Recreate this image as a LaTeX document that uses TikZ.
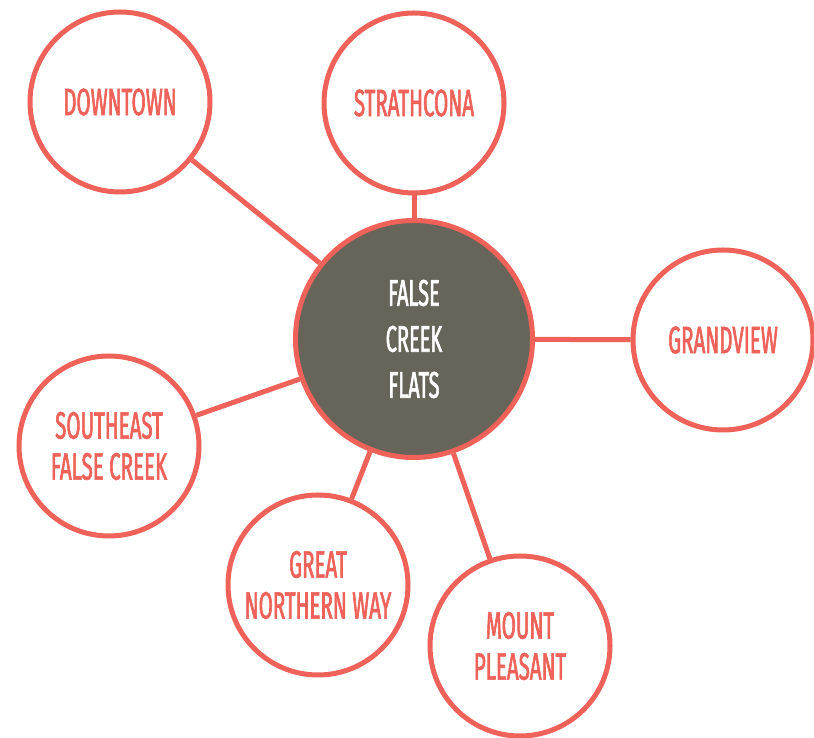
\documentclass[tikz,border=0pt]{standalone}
\usepackage{fontspec}
\setmainfont[FakeStretch=0.54, FakeBold=1.6]{Fira Sans}
\usepackage{tikz}
\definecolor{salmon}{HTML}{EF6259}
\definecolor{slate}{HTML}{67645A}
\tikzstyle{hood}=[draw=salmon, circle, line width=5pt, fill=white, minimum size=180pt, inner sep=0,
                  text=salmon, align=center, font=\fontsize{38}{41}\selectfont]
\tikzstyle{hub}=[hood, fill=slate, minimum size=237pt, text=white, font=\fontsize{37}{46}\selectfont]
\tikzstyle{link}=[draw=salmon, line width=5pt]
\tikzstyle{hoodmap}=[x=1pt, y=1pt,
                     % Fix the page to the size of the original.
                     execute at end picture={\useasboundingbox (0, 0) rectangle (814, 738);}]
\begin{document}
\begin{tikzpicture}[hoodmap]
        \path[use as bounding box] (0, 0) rectangle (814, 738);
        \node[hub]  (fcf)        at (414, 399) {FALSE\\CREEK\\FLATS};
        \node[hood] (downtown)   at (120, 636) {DOWNTOWN};
        \node[hood] (strathcona) at (414, 635) {STRATHCONA};
        \node[hood] (grandview)  at (723, 398) {GRANDVIEW};
        \node[hood] (sefc)       at (109, 292) {SOUTHEAST\\FALSE CREEK};
        \node[hood] (gnw)        at (318, 153) {GREAT\\NORTHERN WAY};
        \node[hood] (mtpleasant) at (520, 92)  {MOUNT\\PLEASANT};
        \draw[link] (fcf) -- (downtown);
        \draw[link] (fcf) -- (strathcona);
        \draw[link] (fcf) -- (grandview);
        \draw[link] (fcf) -- (sefc);
        \draw[link] (fcf) -- (gnw);
        \draw[link] (fcf) -- (mtpleasant);
    \end{tikzpicture}
\end{document}
